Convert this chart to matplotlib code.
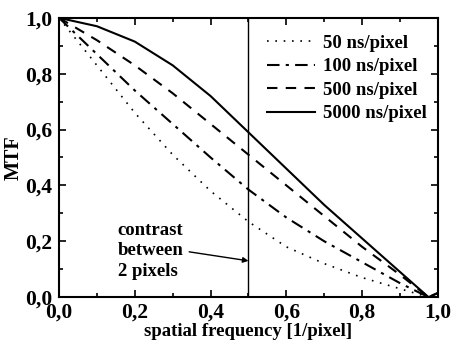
import numpy as np
import matplotlib
matplotlib.use("Agg")
import matplotlib.pyplot as plt
from matplotlib.ticker import MultipleLocator, FuncFormatter

plt.rcParams['font.family'] = ['Liberation Serif', 'DejaVu Serif']
plt.rcParams['font.weight'] = 'bold'

freq = [0.0, 0.1, 0.2, 0.3, 0.4, 0.5, 0.6, 0.7, 0.8, 0.9, 0.975, 1.0]
mtf_50 = [1.0, 0.83, 0.66, 0.51, 0.38, 0.27, 0.18, 0.12, 0.07, 0.03, 0.0, 0.015]
mtf_100 = [1.0, 0.87, 0.74, 0.62, 0.50, 0.385, 0.285, 0.20, 0.125, 0.05, 0.0, 0.015]
mtf_500 = [1.0, 0.92, 0.83, 0.73, 0.62, 0.51, 0.40, 0.29, 0.18, 0.08, 0.0, 0.015]
mtf_5000 = [1.0, 0.97, 0.915, 0.83, 0.72, 0.59, 0.46, 0.33, 0.21, 0.09, 0.0, 0.015]
labels = ['50 ns/pixel', '100 ns/pixel', '500 ns/pixel', '5000 ns/pixel']

fig = plt.figure(figsize=(4.52, 3.5), dpi=100)
ax = fig.add_axes([0.1305, 0.151, 0.8385, 0.798])

ax.plot(freq, mtf_50, color='black', lw=1.2, linestyle=(0, (1, 4)), label=labels[0])
ax.plot(freq, mtf_100, color='black', lw=1.5, linestyle=(0, (6, 3, 1.5, 3)), label=labels[1])
ax.plot(freq, mtf_500, color='black', lw=1.5, linestyle=(0, (5, 4)), label=labels[2])
ax.plot(freq, mtf_5000, color='black', lw=1.5, linestyle='-', label=labels[3])

ax.axvline(0.5, color='black', lw=1.0)

ax.annotate('contrast\nbetween\n2 pixels', xy=(0.5, 0.13), xytext=(0.155, 0.06),
            fontsize=13.5, fontweight='bold', ha='left', va='bottom', linespacing=1.3,
            arrowprops=dict(arrowstyle='-|>', color='black', lw=1.0,
                            shrinkA=2, shrinkB=0, mutation_scale=8,
                            relpos=(1.0, 0.5)))

ax.set_xlim(0, 1.0)
ax.set_ylim(0, 1.0)
ax.xaxis.set_major_locator(MultipleLocator(0.2))
ax.xaxis.set_minor_locator(MultipleLocator(0.1))
ax.yaxis.set_major_locator(MultipleLocator(0.2))
ax.yaxis.set_minor_locator(MultipleLocator(0.1))
fmt = FuncFormatter(lambda v, p: f'{v:.1f}'.replace('.', ','))
ax.xaxis.set_major_formatter(fmt)
ax.yaxis.set_major_formatter(fmt)
ax.tick_params(which='both', direction='in', top=True, right=True, width=1.2)
ax.tick_params(which='major', length=5, labelsize=15.5)
ax.tick_params(which='minor', length=3)
ax.tick_params(axis='x', which='major', pad=4)
ax.tick_params(axis='y', which='major', pad=5)
for s in ax.spines.values():
    s.set_linewidth(1.5)

ax.set_xlabel('spatial frequency [1/pixel]', fontsize=13.5, fontweight='bold', labelpad=0)
ax.set_ylabel('MTF', fontsize=14.5, fontweight='bold', labelpad=1)

ax.legend(loc='upper right', bbox_to_anchor=(1.0, 0.98), frameon=False, fontsize=13.5,
          handlelength=2.6, handletextpad=0.4, labelspacing=0.34, borderaxespad=0.2)

fig.savefig('out.png', dpi=100)
